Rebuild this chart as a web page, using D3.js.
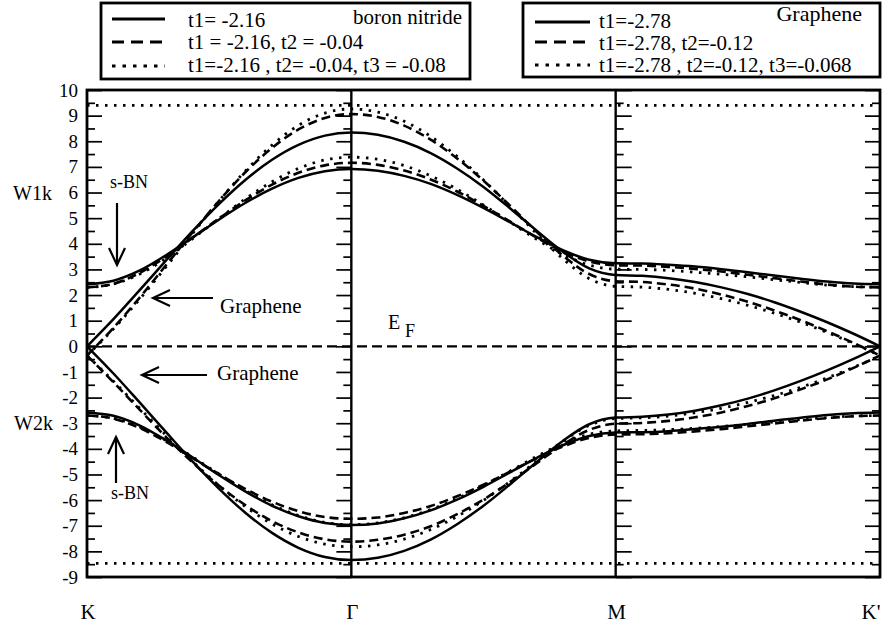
<!DOCTYPE html>
<html><head><meta charset="utf-8">
<script src="https://cdn.jsdelivr.net/npm/d3@7"></script>
<style>
body{margin:0;background:#fff}
svg{display:block}
</style>
</head><body>
<svg id="chart" width="883" height="623"></svg>
<script>
// ---- data ----
const kPath = [0,0.1,0.2,0.3,0.4,0.5,0.6,0.7,0.8,0.9,1,1.1,1.2,1.3,1.4,1.5,1.6,1.7,1.8,1.9,2,2.1,2.2,2.3,2.4,2.5,2.6,2.7,2.8,2.9,3];
const kTickPos = [0,1,2,3];
const kTickLabels = ["K","Γ","M","K'"];
const yTicks = [-9,-8,-7,-6,-5,-4,-3,-2,-1,0,1,2,3,4,5,6,7,8,9,10];
const yMinorTicks = [-8.5,-7.5,-6.5,-5.5,-4.5,-3.5,-2.5,-1.5,-0.5,0.5,1.5,2.5,3.5,4.5,5.5,6.5,7.5,8.5,9.5];

// graphene
const gSolidUp = [0,1.06,2.20,3.36,4.50,5.56,6.50,7.28,7.86,8.22,8.34,8.25,7.98,7.54,6.94,6.22,5.39,4.52,3.69,3.04,2.78,2.75,2.66,2.51,2.30,2.04,1.72,1.35,0.94,0.49,0];
const gSolidDn = [0,-1.06,-2.20,-3.36,-4.50,-5.56,-6.50,-7.28,-7.86,-8.22,-8.34,-8.25,-7.98,-7.54,-6.94,-6.22,-5.39,-4.52,-3.69,-3.04,-2.78,-2.75,-2.66,-2.51,-2.30,-2.04,-1.72,-1.35,-0.94,-0.49,0];
const gDashUp = [-0.36,0.72,1.91,3.18,4.45,5.68,6.80,7.74,8.46,8.91,9.06,8.95,8.61,8.06,7.33,6.46,5.49,4.48,3.54,2.82,2.54,2.51,2.41,2.25,2.02,1.74,1.40,1.02,0.59,0.13,-0.36];
const gDashDn = [-0.36,-1.40,-2.48,-3.55,-4.54,-5.44,-6.20,-6.82,-7.26,-7.53,-7.62,-7.55,-7.35,-7.02,-6.55,-5.98,-5.30,-4.57,-3.84,-3.26,-3.02,-2.99,-2.91,-2.77,-2.58,-2.33,-2.03,-1.68,-1.29,-0.84,-0.36];
const gDotUp = [-0.36,0.68,1.85,3.11,4.41,5.68,6.85,7.85,8.62,9.10,9.26,9.14,8.78,8.19,7.41,6.49,5.46,4.41,3.42,2.64,2.34,2.31,2.22,2.07,1.86,1.60,1.29,0.94,0.54,0.11,-0.36];
const gDotDn = [-0.36,-1.36,-2.42,-3.48,-4.50,-5.44,-6.26,-6.93,-7.42,-7.72,-7.82,-7.75,-7.52,-7.15,-6.64,-6.01,-5.28,-4.49,-3.71,-3.08,-2.82,-2.79,-2.72,-2.59,-2.42,-2.19,-1.92,-1.60,-1.23,-0.82,-0.36];

// boron nitride
const bnSolidUp = [2.42,2.56,2.96,3.56,4.25,4.95,5.60,6.15,6.57,6.83,6.92,6.85,6.65,6.34,5.91,5.40,4.84,4.27,3.75,3.38,3.24,3.23,3.18,3.11,3.01,2.89,2.76,2.64,2.53,2.45,2.42];
const bnSolidDn = [-2.58,-2.71,-3.09,-3.67,-4.34,-5.03,-5.67,-6.22,-6.63,-6.89,-6.97,-6.91,-6.71,-6.40,-5.98,-5.48,-4.92,-4.36,-3.86,-3.50,-3.36,-3.35,-3.31,-3.23,-3.14,-3.03,-2.90,-2.79,-2.68,-2.61,-2.58];
const bnDashUp = [2.30,2.44,2.87,3.50,4.24,4.99,5.70,6.31,6.77,7.06,7.16,7.08,6.86,6.51,6.04,5.48,4.87,4.25,3.70,3.31,3.16,3.15,3.10,3.02,2.92,2.79,2.66,2.53,2.41,2.33,2.30];
const bnDashDn = [-2.70,-2.82,-3.19,-3.73,-4.36,-4.99,-5.57,-6.06,-6.43,-6.66,-6.73,-6.68,-6.50,-6.23,-5.85,-5.40,-4.89,-4.37,-3.91,-3.57,-3.44,-3.43,-3.39,-3.32,-3.23,-3.12,-3.01,-2.90,-2.80,-2.73,-2.70];
const bnDotUp = [2.30,2.43,2.82,3.44,4.20,4.99,5.76,6.42,6.94,7.27,7.38,7.30,7.05,6.65,6.13,5.51,4.85,4.18,3.59,3.17,3.01,3.00,2.96,2.89,2.81,2.71,2.60,2.49,2.39,2.33,2.30];
const bnDotDn = [-2.70,-2.81,-3.15,-3.68,-4.32,-4.99,-5.63,-6.18,-6.60,-6.87,-6.96,-6.89,-6.69,-6.37,-5.94,-5.43,-4.87,-4.30,-3.80,-3.43,-3.30,-3.28,-3.25,-3.20,-3.13,-3.04,-2.95,-2.86,-2.78,-2.72,-2.70];

const refLevels = [9.4, -8.47];   // dotted horizontal lines
const fermiLevel = 0;

const legendBN = ["t1= -2.16", "t1 = -2.16, t2 = -0.04", "t1=-2.16 , t2= -0.04, t3 = -0.08"];
const legendG = ["t1=-2.78", "t1=-2.78, t2=-0.12", "t1=-2.78 , t2=-0.12, t3=-0.068"];

// ---- drawing ----
const FONT = "'Liberation Serif'";
const svg = d3.select("#chart");
const x = d3.scaleLinear().domain([0,3]).range([87,880]);
const y = d3.scaleLinear().domain([-9,10]).range([577,90]);

const styles = {
  solid: {dash: null, w: 2.5},
  dash: {dash: "9,5", w: 2.6},
  dot: {dash: "2.5,6.5", w: 2.8}
};

const series = [
  {v: gSolidUp, s: "solid"}, {v: gSolidDn, s: "solid"},
  {v: gDashUp, s: "dash"}, {v: gDashDn, s: "dash"},
  {v: gDotUp, s: "dot"}, {v: gDotDn, s: "dot"},
  {v: bnSolidUp, s: "solid"}, {v: bnSolidDn, s: "solid"},
  {v: bnDashUp, s: "dash"}, {v: bnDashDn, s: "dash"},
  {v: bnDotUp, s: "dot"}, {v: bnDotDn, s: "dot"}
];

const line = d3.line().x((d,i) => x(kPath[i])).y(d => y(d)).curve(d3.curveMonotoneX);

// reference horizontal lines
svg.selectAll("line.ref").data(refLevels).join("line")
  .attr("x1", x(0)).attr("x2", x(3))
  .attr("y1", d => y(d)).attr("y2", d => y(d))
  .attr("stroke", "#000").attr("stroke-width", 2.8).attr("stroke-dasharray", "2.5,6.5");

// Fermi level
svg.append("line").attr("x1", x(0)).attr("x2", x(3))
  .attr("y1", y(fermiLevel)).attr("y2", y(fermiLevel))
  .attr("stroke", "#000").attr("stroke-width", 2.2).attr("stroke-dasharray", "10,5");

// bands
svg.selectAll("path.band").data(series).join("path")
  .attr("class", "band")
  .attr("d", d => line(d.v))
  .attr("fill", "none").attr("stroke", "#000")
  .attr("stroke-width", d => styles[d.s].w)
  .attr("stroke-dasharray", d => styles[d.s].dash);

// axes / ticks
const fmt = d => String(d);
function tickAxis(axisFn, xpos, size, vals, withLabels) {
  const a = axisFn(y).tickValues(vals).tickSize(size).tickSizeOuter(0);
  if (withLabels) a.tickFormat(fmt).tickPadding(9); else a.tickFormat("");
  const g = svg.append("g").attr("transform", `translate(${xpos},0)`).call(a);
  g.select(".domain").remove();
  g.selectAll(".tick line").attr("stroke", "#000").attr("stroke-width", 1.7);
  g.selectAll("text").style("font-size", "19px").attr("fill", "#000");
  return g;
}
tickAxis(d3.axisLeft, x(0), -15, yTicks, true);
tickAxis(d3.axisLeft, x(0), -8, yMinorTicks, false);
tickAxis(d3.axisRight, x(3), -15, yTicks, false);
tickAxis(d3.axisRight, x(3), -8, yMinorTicks, false);
tickAxis(d3.axisLeft, x(1), 15, yTicks, false);
tickAxis(d3.axisLeft, x(1), 8, yMinorTicks, false);
tickAxis(d3.axisRight, x(2), 16, yTicks, false);
tickAxis(d3.axisRight, x(2), 8, yMinorTicks, false);

// symmetry-point vertical lines
svg.selectAll("line.vsym").data([1,2]).join("line")
  .attr("x1", d => x(d)).attr("x2", d => x(d)).attr("y1", y(10)).attr("y2", y(-9))
  .attr("stroke", "#000").attr("stroke-width", 2.4);

// frame
svg.append("rect").attr("x", x(0)).attr("y", y(10)).attr("width", x(3)-x(0)).attr("height", y(-9)-y(10))
  .attr("fill", "none").attr("stroke", "#000").attr("stroke-width", 2.8);

// x labels
svg.selectAll("text.klab").data(kTickPos).join("text")
  .attr("x", d => x(d) + (d === 3 ? -9 : 1)).attr("y", 619)
  .attr("text-anchor", "middle").style("font-size", "21px")
  .text((d,i) => kTickLabels[i]);

// y-side labels
svg.append("text").attr("x", 13).attr("y", y(6)+7).style("font-size", "20px").text("W1k");
svg.append("text").attr("x", 14).attr("y", y(-3)+7).style("font-size", "20px").text("W2k");

// Fermi label
svg.append("text").attr("x", 388).attr("y", 329).style("font-size", "20px").text("E");
svg.append("text").attr("x", 405).attr("y", 337).style("font-size", "18px").text("F");

// annotations with arrows
function arrow(x1, y1, x2, y2) {
  const g = svg.append("g").attr("stroke", "#000").attr("stroke-width", 2.2).attr("fill", "none");
  g.append("line").attr("x1", x1).attr("y1", y1).attr("x2", x2).attr("y2", y2);
  const ang = Math.atan2(y2 - y1, x2 - x1), L = 17, W = 8;
  const bx = x2 - L * Math.cos(ang), by = y2 - L * Math.sin(ang);
  const px = -Math.sin(ang) * W, py = Math.cos(ang) * W;
  g.append("polyline").attr("points", `${bx+px},${by+py} ${x2},${y2} ${bx-px},${by-py}`);
}
svg.append("text").attr("x", 110).attr("y", 188).style("font-size", "18px").text("s-BN");
arrow(117, 203, 117, 265);
svg.append("text").attr("x", 111).attr("y", 499).style("font-size", "18px").text("s-BN");
arrow(116, 483, 116, 437);
svg.append("text").attr("x", 220).attr("y", 313).style("font-size", "21px").text("Graphene");
arrow(213, 298, 153, 298);
svg.append("text").attr("x", 217).attr("y", 380).style("font-size", "21px").text("Graphene");
arrow(207, 375, 142, 375);

// legends
function legend(bx, by, bw, bh, labels, sx1, sx2, sy, tx, ty, title, titleX, titleY, titleSize) {
  const g = svg.append("g");
  g.append("rect").attr("x", bx).attr("y", by).attr("width", bw).attr("height", bh)
    .attr("fill", "#fff").attr("stroke", "#000").attr("stroke-width", 2.8);
  const kinds = [{dash: null}, {dash: "12,7"}, {dash: "3.5,7"}];
  labels.forEach((lab, i) => {
    g.append("line").attr("x1", sx1).attr("x2", sx2).attr("y1", sy[i]).attr("y2", sy[i])
      .attr("stroke", "#000").attr("stroke-width", 3).attr("stroke-dasharray", kinds[i].dash);
    g.append("text").attr("x", tx).attr("y", ty[i]).style("font-size", "21px").text(lab);
  });
  g.append("text").attr("x", titleX).attr("y", titleY).attr("text-anchor", "end")
    .style("font-size", titleSize).text(title);
}
legend(101, 3, 369, 76, legendBN, 112, 165, [19, 42, 66], 188, [27, 49, 72], "boron nitride", 462, 24, "21px");
legend(523, 3, 357, 74, legendG, 535, 590, [22, 42, 65], 599, [28, 50, 72], "Graphene", 862, 21, "22px");

// font for every text
svg.selectAll("text").style("font-family", FONT).attr("fill", "#000");
</script>
</body></html>
